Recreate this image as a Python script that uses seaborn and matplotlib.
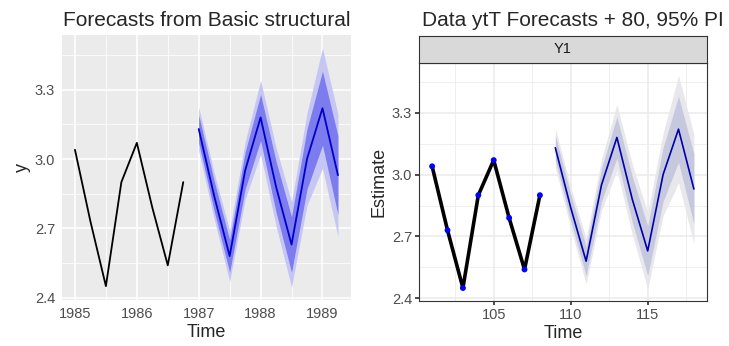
import numpy as np
import pandas as pd
import matplotlib.pyplot as plt
import seaborn as sns

# observed quarterly series (1985 Q1 - 1986 Q4)
obs_time = [1985.0, 1985.25, 1985.5, 1985.75, 1986.0, 1986.25, 1986.5, 1986.75]
obs_y = [3.04, 2.73, 2.45, 2.90, 3.07, 2.79, 2.54, 2.90]

# forecasts (1987 Q1 - 1989 Q2)
fc_time = [1987.0, 1987.25, 1987.5, 1987.75, 1988.0, 1988.25, 1988.5, 1988.75, 1989.0, 1989.25]
fc_mean = [3.13, 2.84, 2.58, 2.95, 3.18, 2.88, 2.63, 3.00, 3.22, 2.93]
half80 = [0.06, 0.065, 0.07, 0.08, 0.10, 0.11, 0.12, 0.13, 0.16, 0.17]
half95 = [0.095, 0.10, 0.11, 0.125, 0.16, 0.17, 0.185, 0.20, 0.26, 0.265]

# index axis of the right panel
obs_idx = [101, 102, 103, 104, 105, 106, 107, 108]
fc_idx = [109, 110, 111, 112, 113, 114, 115, 116, 117, 118]

sns.set_theme(style="white")
plt.rcParams['font.family'] = ['Liberation Sans', 'DejaVu Sans']

obs = pd.DataFrame({'time': obs_time, 'idx': obs_idx, 'y': obs_y})
fc = pd.DataFrame({'time': fc_time, 'idx': fc_idx, 'y': fc_mean,
                   'lo80': np.array(fc_mean) - np.array(half80),
                   'hi80': np.array(fc_mean) + np.array(half80),
                   'lo95': np.array(fc_mean) - np.array(half95),
                   'hi95': np.array(fc_mean) + np.array(half95)})

fig = plt.figure(figsize=(7.29, 3.46), dpi=100)
ax1 = fig.add_axes([0.085, 0.133, 0.3964, 0.766])
ax2 = fig.add_axes([0.5748, 0.130, 0.395, 0.688])
strip = fig.add_axes([0.5748, 0.818, 0.395, 0.078])

yticks = [2.4, 2.7, 3.0, 3.3]
yminor = [2.55, 2.85, 3.15, 3.45]
tick_size = 10.5
lab_size = 13

# ---- left panel: ggplot grey theme
ax1.set_facecolor('#EBEBEB')
ax1.fill_between(fc['time'], fc['lo95'], fc['hi95'], color='#C6C6F5', lw=0, zorder=2)
ax1.fill_between(fc['time'], fc['lo80'], fc['hi80'], color='#7C7CEE', lw=0, zorder=3)
sns.lineplot(data=obs, x='time', y='y', color='black', lw=1.3, ax=ax1, zorder=4)
sns.lineplot(data=fc, x='time', y='y', color='#0000CC', lw=1.3, ax=ax1, zorder=4)
ax1.set_xlim(1984.79, 1989.46)
ax1.set_ylim(2.39, 3.537)
ax1.set_xticks([1985, 1986, 1987, 1988, 1989])
ax1.set_xticks([1985.5, 1986.5, 1987.5, 1988.5], minor=True)
ax1.set_yticks(yticks)
ax1.set_yticklabels(['2.4', '2.7', '3.0', '3.3'])
ax1.set_yticks(yminor, minor=True)
ax1.grid(which='major', color='white', lw=1.1, zorder=0)
ax1.grid(which='minor', color='white', lw=0.55, zorder=0)
ax1.set_axisbelow(True)
for s in ax1.spines.values():
    s.set_visible(False)
ax1.tick_params(axis='both', which='major', length=3, color='#333333', labelsize=tick_size,
                labelcolor='#4D4D4D', pad=2)
ax1.tick_params(which='minor', length=0)
ax1.set_xlabel('Time', fontsize=lab_size, labelpad=2)
ax1.set_ylabel('y', fontsize=lab_size, labelpad=3)
fig.text(0.086, 0.925, 'Forecasts from Basic structural', fontsize=15, ha='left')

# ---- right panel: ggplot bw theme with facet strip
ax2.set_facecolor('white')
ax2.fill_between(fc['idx'], fc['lo95'], fc['hi95'], color='#E7E7EC', lw=0, zorder=2)
ax2.fill_between(fc['idx'], fc['lo80'], fc['hi80'], color='#C6C9DD', lw=0, zorder=3)
sns.lineplot(data=obs, x='idx', y='y', color='black', lw=2.6, ax=ax2, zorder=4)
sns.scatterplot(data=obs, x='idx', y='y', color='#0000FF', s=18, edgecolor='none', ax=ax2, zorder=5)
sns.lineplot(data=fc, x='idx', y='y', color='#0000AA', lw=1.2, ax=ax2, zorder=4)
ax2.set_xlim(100.15, 118.85)
ax2.set_ylim(2.387, 3.541)
ax2.set_xticks([105, 110, 115])
ax2.set_xticks([102.5, 107.5, 112.5, 117.5], minor=True)
ax2.set_yticks(yticks)
ax2.set_yticklabels(['2.4', '2.7', '3.0', '3.3'])
ax2.set_yticks(yminor, minor=True)
ax2.grid(which='major', color='#EBEBEB', lw=1.1, zorder=0)
ax2.grid(which='minor', color='#EBEBEB', lw=0.55, zorder=0)
ax2.set_axisbelow(True)
for s in ax2.spines.values():
    s.set_color('#333333')
    s.set_linewidth(0.8)
ax2.tick_params(axis='both', which='major', length=3, color='#333333', labelsize=tick_size,
                labelcolor='#4D4D4D', pad=2, left=True, bottom=True)
ax2.tick_params(which='minor', length=0)
ax2.set_xlabel('Time', fontsize=lab_size, labelpad=2)
ax2.set_ylabel('Estimate', fontsize=lab_size, labelpad=3)

strip.set_facecolor('#D9D9D9')
strip.set_xticks([])
strip.set_yticks([])
for s in strip.spines.values():
    s.set_color('#333333')
    s.set_linewidth(0.8)
strip.text(0.5, 0.5, 'Y1', ha='center', va='center', fontsize=10.5, color='#1A1A1A',
           transform=strip.transAxes)
fig.text(0.579, 0.925, 'Data ytT Forecasts + 80, 95% PI', fontsize=15, ha='left')

fig.savefig('out.png', dpi=100)
